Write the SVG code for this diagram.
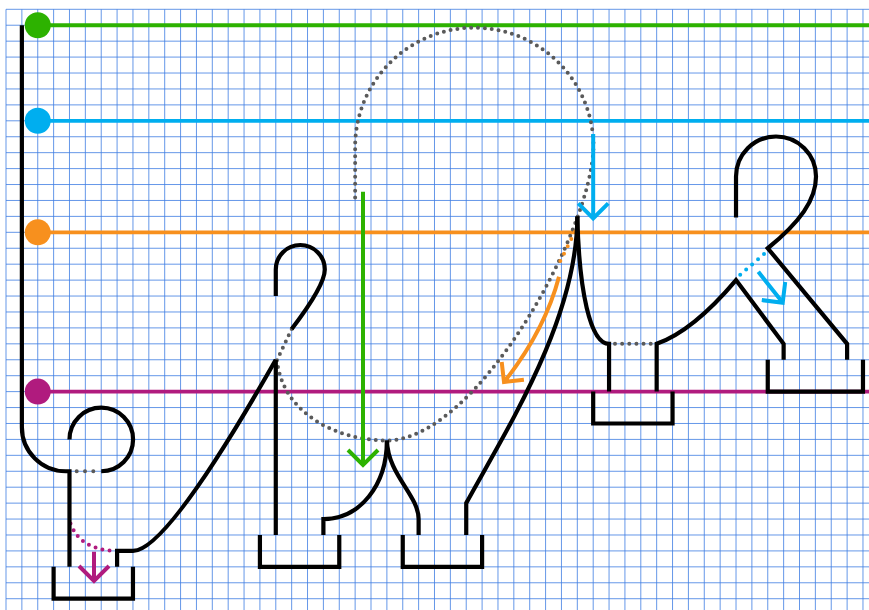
<svg xmlns="http://www.w3.org/2000/svg" width="869" height="610" viewBox="0 0 869 610">
<style>
.grid{stroke:#3f7de2;stroke-width:1;fill:none;opacity:0.8}
.guide{stroke-width:3.8;fill:none}
.ink{stroke:#000;stroke-width:4.2;fill:none;stroke-linejoin:miter;stroke-linecap:butt}
.dots{fill:none;stroke-linecap:round;stroke-width:4}
.gray{stroke:#5a5a5a}
.arrow{fill:none;stroke-width:4;stroke-linejoin:miter}
.g{stroke:#2db200}.b{stroke:#00aeef}.o{stroke:#f7901e}.p{stroke:#b01b7e}
</style>
<rect width="869" height="610" fill="#fff"/>
<g id="grid">
<path class="grid" d="M6 9.3V610M21.87 9.3V610M37.74 9.3V610M53.61 9.3V610M69.48 9.3V610M85.35 9.3V610M101.22 9.3V610M117.09 9.3V610M132.96 9.3V610M148.83 9.3V610M164.7 9.3V610M180.57 9.3V610M196.44 9.3V610M212.31 9.3V610M228.18 9.3V610M244.05 9.3V610M259.92 9.3V610M275.79 9.3V610M291.66 9.3V610M307.53 9.3V610M323.4 9.3V610M339.27 9.3V610M355.14 9.3V610M371.01 9.3V610M386.88 9.3V610M402.75 9.3V610M418.62 9.3V610M434.49 9.3V610M450.36 9.3V610M466.23 9.3V610M482.1 9.3V610M497.97 9.3V610M513.84 9.3V610M529.71 9.3V610M545.58 9.3V610M561.45 9.3V610M577.32 9.3V610M593.19 9.3V610M609.06 9.3V610M624.93 9.3V610M640.8 9.3V610M656.67 9.3V610M672.54 9.3V610M688.41 9.3V610M704.28 9.3V610M720.15 9.3V610M736.02 9.3V610M751.89 9.3V610M767.76 9.3V610M783.63 9.3V610M799.5 9.3V610M815.37 9.3V610M831.24 9.3V610M847.11 9.3V610M862.98 9.3V610"/>
<path class="grid" d="M6 9.3H869M6 25.23H869M6 41.16H869M6 57.09H869M6 73.02H869M6 88.95H869M6 104.88H869M6 120.81H869M6 136.74H869M6 152.67H869M6 168.6H869M6 184.53H869M6 200.46H869M6 216.39H869M6 232.32H869M6 248.25H869M6 264.18H869M6 280.11H869M6 296.04H869M6 311.97H869M6 327.9H869M6 343.83H869M6 359.76H869M6 375.69H869M6 391.62H869M6 407.55H869M6 423.48H869M6 439.41H869M6 455.34H869M6 471.27H869M6 487.2H869M6 503.13H869M6 519.06H869M6 534.99H869M6 550.92H869M6 566.85H869M6 582.78H869M6 598.71H869"/>
</g>
<g id="guides">
<path class="guide g" d="M37.74 25.23H869"/>
<circle cx="37.74" cy="25.23" r="13" fill="#2db200"/>
<path class="guide b" d="M37.74 120.81H869"/>
<circle cx="37.74" cy="120.81" r="13" fill="#00aeef"/>
<path class="guide o" d="M37.74 232.32H869"/>
<circle cx="37.74" cy="232.32" r="13" fill="#f7901e"/>
<path class="guide p" d="M37.74 391.62H869"/>
<circle cx="37.74" cy="391.62" r="13" fill="#b01b7e"/>
</g>
<g id="connectors">
<path class="dots gray" stroke-dasharray="0 6.9" d="M291.7 329L277 360C282 412 335 440.5 386.9 440.5C476.7 440.5 593.5 229.7 593.5 144.7A119.2 119.2 0 0 0 355.14 144.7V200.5"/>
<path class="dots gray" stroke-dasharray="0 8.3" d="M76.7 471.27H93.4"/>
<path class="dots gray" stroke-dasharray="0 7.14" d="M615 343.83H650.7"/>
<path class="dots p" stroke-dasharray="0 7.2" d="M70.5 523.5Q80 549 114 551"/>
<path class="dots o" stroke-dasharray="0 8.2" d="M575 231.7L556.7 268.3"/>
<path class="dots b" stroke-dasharray="0 7.9" d="M764 254L740 275"/>
</g>
<g id="figure-left">
<path class="ink" d="M21.87 25.23V427.2A44 44 0 0 0 65.9 471.27H69.48V566.85"/>
<path class="ink" d="M69.48 439.41A31.8 31.8 0 1 1 101.22 471.27"/>
<path class="ink" d="M117.09 566.85V550.92H133Q167 550.92 275.79 359.76"/>
<path class="ink" d="M53.61 566.85V598.71H132.96V566.85"/>
</g>
<g id="figure-middle">
<path class="ink" d="M275.79 359.76V534.99"/>
<path class="ink" d="M275.79 296.04V269.5A24.5 24.5 0 0 1 324.8 269.5C324.8 282 310 305 291.7 329"/>
<path class="ink" d="M259.92 534.99V566.85H339.27V534.99"/>
<path class="ink" d="M386.88 440.5C386.88 485 360 519.06 323.4 519.06V534.99"/>
<path class="ink" d="M386.88 440.5C388 475 418.62 495 418.62 519.06V534.99"/>
<path class="ink" d="M402.75 534.99V566.85H482.1V534.99"/>
<path class="ink" d="M466.23 534.99V503.13C505 432 577.32 320 577.32 216.39"/>
</g>
<g id="figure-right">
<path class="ink" d="M577.32 216.39C579 290 590 343.83 609.06 343.83V391.62"/>
<path class="ink" d="M593.19 391.62V423.48H672.54V391.62"/>
<path class="ink" d="M656.67 391.62V343.83Q693 331 736.02 280.11L783.63 343.83V359.76"/>
<path class="ink" d="M736.02 217.5V176.5A40 40 0 0 1 816.02 176.5C816.02 200 800 222 767.76 248.25L847.11 343.83V359.76"/>
<path class="ink" d="M767.76 359.76V391.62H862.98V359.76"/>
</g>
<g id="arrows">
<path class="arrow b" d="M593.19 134V218M578.2 203.3L593.19 218.3L608.2 203.3"/>
<path class="arrow b" d="M758.3 271.7L782.2 302.1M761.8 300.1L782.7 302.7L785.2 281.9"/>
<path class="arrow o" d="M559 276.7Q545 330 504.5 381.5M501.7 362.1L504 382L523.9 379.7"/>
<path class="arrow g" d="M363 191.7V464.5M348 450L363 465L378 450"/>
<path class="arrow p" d="M94 551.7V580.5M79 566L94 581L109 566"/>
</g>
</svg>
